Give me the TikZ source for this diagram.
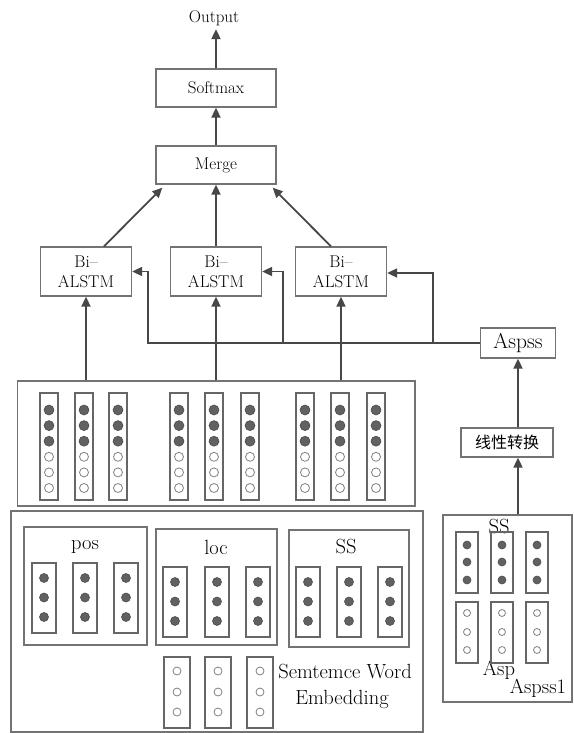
\documentclass[tikz,border=0pt]{standalone}
\usepackage{fontspec}
\newfontfamily\cjk{Noto Sans CJK SC}
\usetikzlibrary{arrows.meta,calc}
\begin{document}
\begin{tikzpicture}[x=1pt,y=-1pt,
  box/.style={draw=black!55,line width=1.3pt,rectangle,inner sep=0pt},
  smalltext/.style={font=\fontsize{17}{20}\selectfont},
  bigtext/.style={font=\fontsize{20.5}{24}\selectfont},
  arr/.style={draw=black!72,line width=1.8pt,-{Triangle[length=10pt,width=9pt]}},
  col/.style={draw=black!60,line width=1.1pt},
  full/.style={draw=black!70,fill=black!62,line width=0.6pt},
  empty/.style={draw=black!50,fill=white,line width=0.8pt}
]
\useasboundingbox (0,0) rectangle (573,733);

% top part
\node[smalltext] (output) at (214,18) {Output};
\node[box,smalltext,minimum width=120pt,minimum height=38pt] (softmax) at (216,88) {Softmax};
\node[box,smalltext,minimum width=120pt,minimum height=38pt] (merge) at (216,165) {Merge};
\node[box,smalltext,align=center,minimum width=91pt,minimum height=49pt] (bil1) at (86,271.5) {Bi–\\ALSTM};
\node[box,smalltext,align=center,minimum width=91pt,minimum height=49pt] (bil2) at (216,271.5) {Bi–\\ALSTM};
\node[box,smalltext,align=center,minimum width=91pt,minimum height=49pt] (bil3) at (341,271.5) {Bi–\\ALSTM};
\node[box,font=\fontsize{21.5}{24}\selectfont,minimum width=75pt,minimum height=30pt] (aspss) at (518,343) {Aspss};
\node[box,font=\cjk\fontsize{16}{19}\selectfont,minimum width=92pt,minimum height=29pt] (lin) at (507,442.5) {线性转换};

% containers
\node[box,minimum width=397.5pt,minimum height=125pt] (upper) at (216.25,443.5) {};
\node[box,minimum width=412pt,minimum height=221pt] (lower) at (217,621.5) {};
\node[box,minimum width=123pt,minimum height=118pt] (pos) at (85.5,586) {};
\node[box,minimum width=121pt,minimum height=116pt] (loc) at (216.5,587) {};
\node[box,minimum width=120pt,minimum height=117pt] (ssb) at (349,588.5) {};
\node[box,minimum width=129pt,minimum height=187pt] (rbox) at (507.5,608.5) {};

% labels
\node[bigtext] (lpos) at (85,547) {pos};
\node[bigtext] (lloc) at (216,547) {loc};
\node[bigtext] (lss) at (346,546) {SS};
\node[bigtext] (lsem) at (345,671) {Semtemce Word};
\node[bigtext] (lemb) at (342,699) {Embedding};
\node[bigtext] (rss) at (499,526) {SS};
\node[bigtext] (rasp) at (499,670) {Asp};
\node[bigtext] (raspss) at (538,688) {Aspss1};

% arrows
\draw[arr] (softmax.north) -- (softmax.north |- output.south);
\draw[arr] (merge.north) -- (softmax.south);
\draw[arr] ([xshift=18pt]bil1.north) -- ([xshift=7pt,yshift=-3pt]merge.south west);
\draw[arr] (bil2.north) -- (merge.south);
\draw[arr] ([xshift=-10pt]bil3.north) -- ([xshift=-4pt,yshift=-3pt]merge.south east);
\draw[arr] (bil1.south |- upper.north) -- (bil1.south);
\draw[arr] (bil2.south |- upper.north) -- (bil2.south);
\draw[arr] (bil3.south |- upper.north) -- (bil3.south);

\coordinate (j1) at ([xshift=16pt]bil1.east);
\coordinate (j2) at ([xshift=21pt]bil2.east |- aspss.west);
\coordinate (j3) at ([xshift=45.5pt]bil3.east |- aspss.west);
\draw[arr] (aspss.west) -| (j1) -- (bil1.east);
\draw[arr] (j2) |- (bil2.east);
\draw[arr] (j3) |- ([yshift=-1.5pt]bil3.east);

\draw[arr] (aspss.south |- lin.north) -- (aspss.south);
\draw[arr] (aspss.south |- rbox.north) -- (aspss.south |- lin.south);

% upper vector columns
\foreach \cx in {49,84,118,179,214,250,305,340,376}{
  \draw[col] (\cx-9,393) rectangle (\cx+9,500);
  \foreach \cy in {410,425.6,441.2}{\draw[full] (\cx,\cy) circle (5pt);}
  \foreach \cy in {456.8,472.4,488}{\draw[empty] (\cx,\cy) circle (4.5pt);}
}
% pos columns
\foreach \cx in {44,85,126}{
  \draw[col] (\cx-12,563) rectangle (\cx+12,633);
  \foreach \cy in {578,597.5,617}{\draw[full] (\cx,\cy) circle (4.5pt);}
}
% loc and SS columns
\foreach \cx in {175,217,258,308,349,390}{
  \draw[col] (\cx-12,567) rectangle (\cx+12,637);
  \foreach \cy in {582,601.5,621}{\draw[full] (\cx,\cy) circle (4.5pt);}
}
% bottom word embedding columns
\foreach \cx in {177,218,260}{
  \draw[col] (\cx-13,657) rectangle (\cx+13,728);
  \foreach \cy in {671,692,712}{\draw[empty] (\cx,\cy) circle (4pt);}
}
% right box columns
\foreach \cx in {467,502,537}{
  \draw[col] (\cx-11,532) rectangle (\cx+11,593);
  \foreach \cy in {545,562,580}{\draw[full] (\cx,\cy) circle (4pt);}
  \draw[col] (\cx-11,602) rectangle (\cx+11,663);
  \foreach \cy in {613,632,650}{\draw[empty] (\cx,\cy) circle (3.5pt);}
}
\end{tikzpicture}
\end{document}
